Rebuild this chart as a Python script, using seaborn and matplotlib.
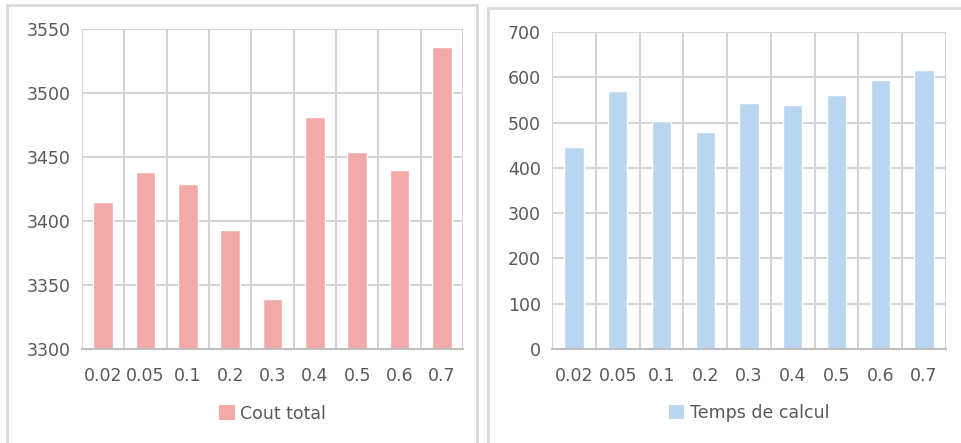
import matplotlib
matplotlib.use('Agg')
import matplotlib.pyplot as plt
import seaborn as sns
from matplotlib.patches import Rectangle, Patch

# data
categories = ['0.02', '0.05', '0.1', '0.2', '0.3', '0.4', '0.5', '0.6', '0.7']
cout_total = [3415, 3438, 3429, 3393, 3339, 3481, 3454, 3440, 3536]
temps_calcul = [445, 570, 504, 479, 544, 539, 561, 595, 616]

cout_ticks = [3300, 3350, 3400, 3450, 3500, 3550]
temps_ticks = [0, 100, 200, 300, 400, 500, 600, 700]

pink = '#F2AAA8'
blue = '#B8D6EF'
grid_col = '#D4D4D4'
text_col = '#595959'

sns.set_style('white')
plt.rcParams['font.family'] = ['DejaVu Sans']

fig = plt.figure(figsize=(9.62, 4.43), dpi=100)
W, H = 962, 443


def px_axes(x0, y0, x1, y1):
    return fig.add_axes([x0 / W, 1 - y1 / H, (x1 - x0) / W, (y1 - y0) / H])


# panel borders
fig.patches.append(Rectangle((7 / W, -0.01), (477 - 7) / W, 1 - 5 / H + 0.01,
                             transform=fig.transFigure, fill=False,
                             edgecolor='#D9D9D9', linewidth=2))
fig.patches.append(Rectangle((488 / W, -0.01), (962 - 488) / W + 0.01, 1 - 8 / H + 0.01,
                             transform=fig.transFigure, fill=False,
                             edgecolor='#D9D9D9', linewidth=2))


def style_axes(ax, ticks, lo, hi, label, color):
    ax.set_ylim(lo, hi)
    ax.set_yticks(ticks)
    ax.set_xlim(-0.5, len(categories) - 0.5)
    ax.set_xlabel('')
    ax.set_ylabel('')
    # grid: horizontal at ticks, vertical at category boundaries
    for t in ticks[1:]:
        ax.axhline(t, color=grid_col, linewidth=1.5, zorder=0)
    for b in range(len(categories) + 1):
        ax.axvline(b - 0.5, color=grid_col, linewidth=1.5, zorder=0)
    for s in ['top', 'right', 'left']:
        ax.spines[s].set_visible(False)
    ax.spines['bottom'].set_color('#BFBFBF')
    ax.spines['bottom'].set_linewidth(1.5)
    ax.tick_params(axis='both', length=0, labelsize=12.5, colors=text_col)
    ax.tick_params(axis='x', pad=13)
    ax.tick_params(axis='y', pad=8)
    handle = Patch(facecolor=color, edgecolor='none')
    ax.legend([handle], [label], loc='upper center', bbox_to_anchor=(0.5, -0.125),
              frameon=False, fontsize=12.5, handlelength=0.9, handleheight=0.9,
              handletextpad=0.3, labelcolor=text_col)


ax1 = px_axes(82, 29, 463, 349)
sns.barplot(x=categories, y=cout_total, color=pink, saturation=1, width=0.46, ax=ax1)
style_axes(ax1, cout_ticks, 3300, 3550, 'Cout total', pink)

ax2 = px_axes(552, 32, 946, 349)
sns.barplot(x=categories, y=temps_calcul, color=blue, saturation=1, width=0.44, ax=ax2)
style_axes(ax2, temps_ticks, 0, 700, 'Temps de calcul', blue)

fig.savefig('out.png', dpi=100)
